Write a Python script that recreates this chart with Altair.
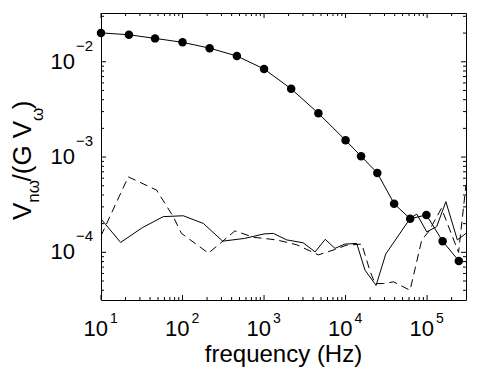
import altair as alt
import pandas as pd

# ---- data ----
freq_dots = [10, 22, 46, 100, 215, 464, 1000, 2150, 4640, 10000, 15500, 24500,
             39400, 62000, 98000, 155000, 245000]
vals_dots = [0.0201, 0.0192, 0.0176, 0.0160, 0.0139, 0.0115, 0.0084, 0.0052,
             0.00288, 0.00150, 0.00102, 0.00068, 0.000324, 0.000225, 0.000247,
             0.000131, 0.0000813]

freq_solid = [10, 17.4, 32, 58, 102, 180, 311, 575, 1000, 1300, 1900, 3020, 4230,
              5630, 7400, 9800, 13700, 17300, 23700, 31100, 62000, 74800, 99000,
              131000, 170000, 235000, 300000]
vals_solid = [2.24e-4, 1.27e-4, 1.81e-4, 2.37e-4, 2.42e-4, 2.01e-4, 1.31e-4,
              1.40e-4, 1.56e-4, 1.58e-4, 1.35e-4, 1.26e-4, 1.01e-4, 1.37e-4,
              1.10e-4, 1.22e-4, 1.24e-4, 6.5e-5, 4.5e-5, 9.6e-5, 2.27e-4,
              2.52e-4, 1.64e-4, 1.86e-4, 3.4e-4, 1.35e-4, 1.58e-4]

freq_dash = [10, 21.6, 48, 77, 97, 208, 440, 740, 1430, 2520, 4630, 7400, 10300,
             15800, 20000, 23000, 29000, 38700, 61800, 86000, 104000, 150000,
             243000, 300000]
vals_dash = [1.49e-4, 6.2e-4, 4.5e-4, 2.37e-4, 1.58e-4, 9.8e-5, 1.68e-4, 1.44e-4,
             1.35e-4, 1.20e-4, 9.4e-5, 1.07e-4, 1.19e-4, 1.22e-4, 6.3e-5, 4.7e-5,
             4.7e-5, 4.9e-5, 4.0e-5, 1.35e-4, 1.64e-4, 2.9e-4, 1.0e-4, 5.1e-4]

x_major = [10, 100, 1000, 10000, 100000]
x_exp = ["1", "2", "3", "4", "5"]
y_major = [1e-2, 1e-3, 1e-4]
y_exp = ["\u22122", "\u22123", "\u22124"]

X_DOMAIN = [10, 3e5]
Y_DOMAIN = [3.16e-5, 3.25e-2]

x_minor = [m * 10 ** d for d in range(1, 6) for m in range(2, 10)
           if X_DOMAIN[0] < m * 10 ** d < X_DOMAIN[1]]
y_minor = [m * 10.0 ** d for d in range(-5, -1) for m in range(2, 10)
           if Y_DOMAIN[0] < m * 10.0 ** d < Y_DOMAIN[1]]

W, H = 365, 287
FONT = "Liberation Sans"

xs = alt.Scale(type="log", domain=X_DOMAIN, nice=False)
ys = alt.Scale(type="log", domain=Y_DOMAIN, nice=False)

df_dots = pd.DataFrame({"f": freq_dots, "v": vals_dots})
df_solid = pd.DataFrame({"f": freq_solid, "v": vals_solid})
df_dash = pd.DataFrame({"f": freq_dash, "v": vals_dash})
df_xmaj = pd.DataFrame({"f": x_major, "e": x_exp})
df_ymaj = pd.DataFrame({"v": y_major, "e": y_exp})
df_xmin = pd.DataFrame({"f": x_minor})
df_ymin = pd.DataFrame({"v": y_minor})

X = alt.X("f:Q", scale=xs, axis=None)
Y = alt.Y("v:Q", scale=ys, axis=None)

solid = alt.Chart(df_solid).mark_line(color="black", strokeWidth=1, clip=True).encode(x=X, y=Y)
dash = alt.Chart(df_dash).mark_line(color="black", strokeWidth=1, strokeDash=[8, 5], clip=True).encode(x=X, y=Y)
dline = alt.Chart(df_dots).mark_line(color="black", strokeWidth=1).encode(x=X, y=Y)
dpts = alt.Chart(df_dots).mark_circle(color="black", size=72, opacity=1).encode(x=X, y=Y)

def xticks(df, length):
    bot = alt.Chart(df).mark_rule(color="black", strokeWidth=1).encode(
        x=X, y=alt.value(H), y2=alt.value(H - length))
    top = alt.Chart(df).mark_rule(color="black", strokeWidth=1).encode(
        x=X, y=alt.value(0), y2=alt.value(length))
    return [bot, top]

def yticks(df, length):
    left = alt.Chart(df).mark_rule(color="black", strokeWidth=1).encode(
        y=Y, x=alt.value(0), x2=alt.value(length))
    right = alt.Chart(df).mark_rule(color="black", strokeWidth=1).encode(
        y=Y, x=alt.value(W), x2=alt.value(W - length))
    return [left, right]

ticks = xticks(df_xmaj, 5) + xticks(df_xmin, 3) + yticks(df_ymaj, 5) + yticks(df_ymin, 3)

xlab_base = alt.Chart(df_xmaj).mark_text(
    text="10", font=FONT, fontSize=22, align="right", baseline="alphabetic", dx=7
).encode(x=X, y=alt.value(323))
xlab_exp = alt.Chart(df_xmaj).mark_text(
    font=FONT, fontSize=14, align="left", baseline="alphabetic", dx=9
).encode(x=X, y=alt.value(310), text="e:N")

ylab_base = alt.Chart(df_ymaj).mark_text(
    text="10", font=FONT, fontSize=22, align="right", baseline="alphabetic", dy=7
).encode(y=Y, x=alt.value(-26))
ylab_exp = alt.Chart(df_ymaj).mark_text(
    font=FONT, fontSize=15, align="left", baseline="alphabetic", dy=-11
).encode(y=Y, x=alt.value(-25), text="e:N")

xtitle = alt.Chart(pd.DataFrame({"t": ["frequency (Hz)"]})).mark_text(
    font=FONT, fontSize=24, align="center", baseline="alphabetic"
).encode(x=alt.value(W / 2), y=alt.value(349), text="t:N")

def tpiece(txt, x, y, size):
    return alt.Chart(pd.DataFrame({"t": [txt]})).mark_text(
        font=FONT, fontSize=size, align="left", baseline="alphabetic", angle=270
    ).encode(x=alt.value(x), y=alt.value(y), text="t:N")

ytitle = [
    tpiece("V", -70, 207, 26),
    tpiece("n\u03c9", -62, 189.7, 17),
    tpiece("/(G V", -70, 168.5, 26),
    tpiece("\u03c9", -58, 107.9, 17),
    tpiece(")", -70, 96.2, 26),
]

chart = alt.layer(
    solid, dash, dline, dpts, *ticks, xlab_base, xlab_exp, ylab_base, ylab_exp,
    xtitle, *ytitle
).properties(
    width=W, height=H,
    autosize=alt.AutoSizeParams(type="none"),
    padding={"left": 93, "top": 5, "right": 11, "bottom": 71},
).configure_view(stroke="black", strokeWidth=1)

chart.save("out.html", embed_options={"renderer": "svg", "actions": False})
